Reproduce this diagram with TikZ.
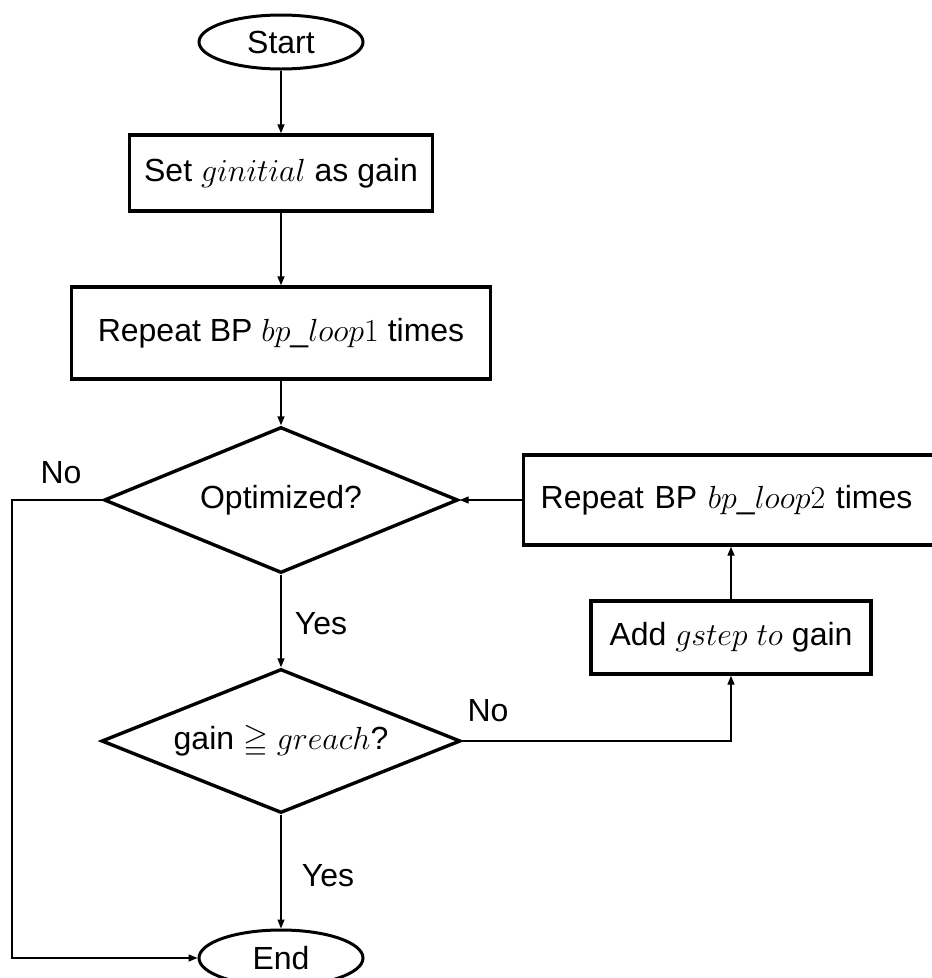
\RequirePackage{fix-cm}
\documentclass[tikz,border=0pt]{standalone}
\usepackage{amssymb}
\usepackage[no-math]{fontspec}
\setmainfont{Liberation Sans}
\usetikzlibrary{shapes.geometric,arrows.meta}

\begin{document}
\begin{tikzpicture}[x=1pt,y=-1pt,
  every node/.style={font=\fontsize{32}{38}\selectfont},
  term/.style={ellipse, draw, line width=3pt, minimum width=164pt,
    minimum height=54pt, inner sep=0pt},
  proc/.style={rectangle, draw, line width=3.4pt, inner sep=0pt},
  cond/.style={diamond, draw, line width=3.4pt, inner sep=0pt, aspect=2.4},
  link/.style={line width=1.4pt, -{Triangle[length=9pt,width=7pt]}},
  tag/.style={inner sep=0pt}]

\useasboundingbox (0,0) rectangle (932,978);
\fill[white] (0,0) rectangle (932,978);
\clip (0,0) rectangle (932,978);

% main column
\node[term] (start) at (281,42) {Start};
\node[proc, minimum width=303pt, minimum height=76pt] (init) at (281,173)
  {Set $ginitial$ as gain};
\node[proc, minimum width=419pt, minimum height=92pt] (bp1) at (281,333)
  {Repeat BP $bp\_loop1$ times};
\node[cond, minimum width=354pt, minimum height=146pt] (opt) at (281,500)
  {Optimized?};
\node[cond, minimum width=359pt, minimum height=144pt] (reach) at (281,741)
  {gain $\geqq$ $greach$?};
\node[term, minimum height=56pt] (end) at (281,958) {End};

% retry branch
\node[proc, minimum width=280pt, minimum height=73pt] (add) at (731,637.5)
  {Add $gstep$ $to$ gain};
\node[proc, anchor=west, minimum height=90pt, inner xsep=17pt,
  text width=400pt, align=left] (bp2) at (522,500)
  {Repeat BP $bp\_loop2$ times};

% connectors
\draw[link] (start) -- (init);
\draw[link] (init) -- (bp1);
\draw[link] (bp1) -- (opt);
\draw[link] (opt) -- (reach);
\draw[link] (reach) -- (end);
\coordinate (rail) at (12,0);
\draw[link] (opt.west) -- (rail |- opt.west) -- (rail |- end.west) -- (end.west);
\draw[link] (reach.east) -| (add.south);
\draw[link] (add) -- (add |- bp2.south);
\draw[link] (bp2.west) -- (opt.east);

% branch labels
\node[tag] (no1) at (61,473) {No};
\node[tag] (no2) at (488,711) {No};
\node[tag] (yes1) at (321,624) {Yes};
\node[tag] (yes2) at (328,876) {Yes};
\end{tikzpicture}
\end{document}
